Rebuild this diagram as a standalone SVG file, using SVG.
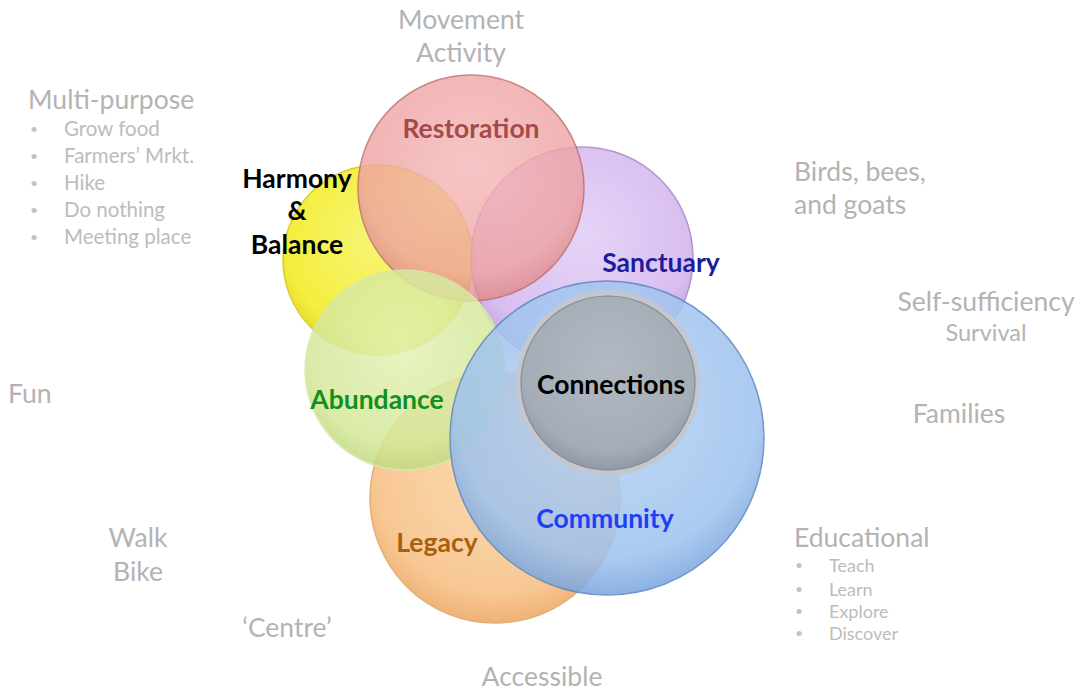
<svg xmlns="http://www.w3.org/2000/svg" width="1080" height="690" viewBox="0 0 1080 690">
<defs>
<radialGradient id="gYellow" cx="50%" cy="40%" r="60%"><stop offset="0" stop-color="#f8f570"/><stop offset="0.8" stop-color="#f4ee34"/><stop offset="1" stop-color="#e2d820"/></radialGradient>
<radialGradient id="gPink" cx="50%" cy="40%" r="60%"><stop offset="0" stop-color="#f4b8b8"/><stop offset="0.8" stop-color="#efa2a2"/><stop offset="1" stop-color="#de8888"/></radialGradient>
<radialGradient id="gPurple" cx="50%" cy="40%" r="60%"><stop offset="0" stop-color="#e2cef6"/><stop offset="0.8" stop-color="#d2b4ee"/><stop offset="1" stop-color="#bc98dc"/></radialGradient>
<radialGradient id="gOrange" cx="50%" cy="40%" r="60%"><stop offset="0" stop-color="#fbd6a8"/><stop offset="0.8" stop-color="#f7c288"/><stop offset="1" stop-color="#eeaa68"/></radialGradient>
<radialGradient id="gGreen" cx="50%" cy="40%" r="60%"><stop offset="0" stop-color="#e4f2b6"/><stop offset="0.8" stop-color="#d4e89a"/><stop offset="1" stop-color="#c0da80"/></radialGradient>
<radialGradient id="gBlue" cx="50%" cy="40%" r="60%"><stop offset="0" stop-color="#b6d2f4"/><stop offset="0.8" stop-color="#9ec2ee"/><stop offset="1" stop-color="#78a4de"/></radialGradient>
<radialGradient id="gGray" cx="50%" cy="40%" r="60%"><stop offset="0" stop-color="#b2b9c2"/><stop offset="0.8" stop-color="#a4acb6"/><stop offset="1" stop-color="#8c95a2"/></radialGradient>
</defs>
<style>
.faint{font-family:Lato,"Open Sans",sans-serif;fill:#b3b3b3;font-size:26.5px}
.faint2{font-family:Lato,"Open Sans",sans-serif;fill:#b3b3b3;font-size:23.5px}
.small{font-family:Lato,"Open Sans",sans-serif;fill:#bcbcbc;font-size:20.5px}
.small2{font-family:Lato,"Open Sans",sans-serif;fill:#bcbcbc;font-size:18px}
.dot{font-family:Lato,"Open Sans",sans-serif;fill:#c4c4c4;font-size:14px}
.lbl{font-family:Lato,"Open Sans",sans-serif;font-weight:bold;font-size:26.5px;text-anchor:middle}
.c{stroke-width:1.5}
</style>
<rect width="1080" height="690" fill="#ffffff"/>

<g id="side-texts">
<text class="faint" x="461" y="29" text-anchor="middle">Movement</text>
<text class="faint" x="461" y="62" text-anchor="middle">Activity</text>
<text class="faint" x="28" y="109">Multi-purpose</text>
<g>
<text class="dot" x="30" y="134">•</text><text class="small" x="64" y="136">Grow food</text>
<text class="dot" x="30" y="161">•</text><text class="small" x="64" y="163">Farmers’ Mrkt.</text>
<text class="dot" x="30" y="188">•</text><text class="small" x="64" y="190">Hike</text>
<text class="dot" x="30" y="215">•</text><text class="small" x="64" y="217">Do nothing</text>
<text class="dot" x="30" y="242">•</text><text class="small" x="64" y="244">Meeting place</text>
</g>
<text class="faint" x="794" y="181">Birds, bees,</text>
<text class="faint" x="794" y="214">and goats</text>
<text class="faint" x="986" y="311" text-anchor="middle">Self-sufficiency</text>
<text class="faint2" x="986" y="341" text-anchor="middle">Survival</text>
<text class="faint" x="8" y="403">Fun</text>
<text class="faint" x="959" y="423" text-anchor="middle">Families</text>
<text class="faint" x="138" y="547" text-anchor="middle">Walk</text>
<text class="faint" x="138" y="581" text-anchor="middle">Bike</text>
<text class="faint" x="794" y="547">Educational</text>
<g>
<text class="dot" x="795" y="570">•</text><text class="small2" x="829" y="572">Teach</text>
<text class="dot" x="795" y="594">•</text><text class="small2" x="829" y="596">Learn</text>
<text class="dot" x="795" y="616">•</text><text class="small2" x="829" y="618">Explore</text>
<text class="dot" x="795" y="638">•</text><text class="small2" x="829" y="640">Discover</text>
</g>
<text class="faint" x="287" y="637" text-anchor="middle">‘Centre’</text>
<text class="faint" x="542" y="686" text-anchor="middle">Accessible</text>
</g>

<g id="harmony"><circle class="c" cx="378" cy="260" r="95" fill="url(#gYellow)" stroke="#d8cc20" opacity="0.95"/></g>
<g id="sanctuary"><circle class="c" cx="582" cy="258" r="111" fill="url(#gPurple)" stroke="#a884c8" opacity="0.85"/></g>
<g id="restoration"><circle class="c" cx="471" cy="188" r="113" fill="url(#gPink)" stroke="#b86a6a" opacity="0.8"/></g>
<g id="legacy"><circle class="c" cx="495" cy="498" r="125" fill="url(#gOrange)" stroke="#e0a868" opacity="0.9"/></g>
<g id="abundance"><circle class="c" cx="405" cy="370" r="100" fill="url(#gGreen)" stroke="#d8e8b0" opacity="0.85"/></g>
<g id="community"><circle class="c" cx="607" cy="438" r="157" fill="url(#gBlue)" stroke="#5a86c0" opacity="0.85"/></g>
<g id="connections">
<circle cx="608" cy="383" r="90" fill="url(#gGray)" stroke="#c4c8ce" stroke-width="5"/>
<circle cx="608" cy="383" r="87" fill="none" stroke="#8a929c" stroke-width="1.2"/>
</g>

<g id="labels">
<text class="lbl" x="297" y="188" fill="#000">Harmony</text>
<text class="lbl" x="297" y="220" fill="#000">&amp;</text>
<text class="lbl" x="297" y="254" fill="#000">Balance</text>
<text class="lbl" x="471" y="138" fill="#a44a4a">Restoration</text>
<text class="lbl" x="661" y="272" fill="#1c1c9c">Sanctuary</text>
<text class="lbl" x="611" y="394" fill="#000">Connections</text>
<text class="lbl" x="377" y="409" fill="#109020">Abundance</text>
<text class="lbl" x="605" y="528" fill="#1f3ff5">Community</text>
<text class="lbl" x="437" y="552" fill="#a8600f">Legacy</text>
</g>
<g id="connectors"/>
</svg>
